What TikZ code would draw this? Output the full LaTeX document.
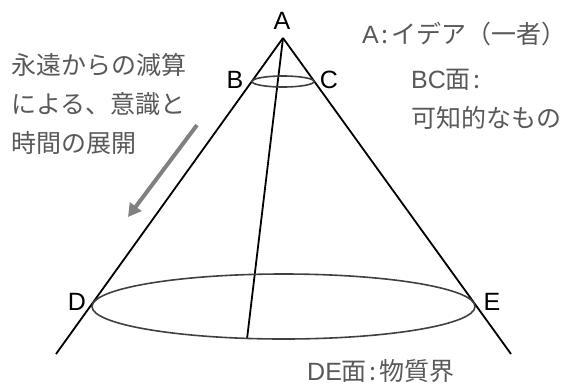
\documentclass[tikz,border=0pt]{standalone}
\usepackage{fontspec}
\setmainfont{Liberation Sans}
\newfontfamily\jp{Noto Sans CJK JP}
\usetikzlibrary{arrows.meta}
\definecolor{txtgray}{RGB}{89,89,89}
\definecolor{ringgray}{RGB}{64,64,64}
\definecolor{arrgray}{RGB}{128,128,128}
\newcommand{\cln}{\hspace{3pt}:\hspace{3pt}}
\newcommand{\lat}[1]{{\rmfamily #1}}
\tikzset{
  cone/.style={line width=1.8pt, black},
  ring/.style={line width=1.6pt, ringgray},
  ptlabel/.style={inner sep=0pt, font=\fontsize{25}{25}\selectfont, text=black},
  note/.style={inner sep=0pt, anchor=west, align=left, text=txtgray, font=\jp\fontsize{25}{39}\selectfont},
  flow/.style={line width=4pt, arrgray, -{Triangle[length=13pt,width=14pt]}}
}
\begin{document}
\begin{tikzpicture}[x=1pt,y=-1pt]
\useasboundingbox (0,0) rectangle (564,386);
\coordinate (apex) at (283,38);
\coordinate (lend) at (56,354);
\coordinate (rend) at (511,354);
\coordinate (foot) at (247,339);
\draw[cone] (apex) -- (lend);
\draw[cone] (apex) -- (rend);
\draw[cone] (apex) -- (foot);
\draw[ring] (283,81.5) ellipse [x radius=31, y radius=5.5];
\draw[ring] (283.5,306.5) ellipse [x radius=191.5, y radius=32.5];
\node[ptlabel] (lA) at (282,21) {A};
\node[ptlabel] (lB) at (235,80) {B};
\node[ptlabel] (lC) at (329,80) {C};
\node[ptlabel] (lD) at (77,302) {D};
\node[ptlabel] (lE) at (492,302) {E};
\node[note] (tA) at (362,34) {\lat{A}\cln イデア（一者）};
\node[note] (tBC) at (411,99) {\lat{BC}面\cln\\可知的なもの};
\node[note] (tL) at (11,104) {永遠からの減算\\による、意識と\\時間の展開};
\node[note] (tDE) at (307,371) {\lat{DE}面\cln 物質界};
\coordinate (as) at (197,125);
\coordinate (ae) at (128,217);
\draw[flow] (as) -- (ae);
\end{tikzpicture}
\end{document}
